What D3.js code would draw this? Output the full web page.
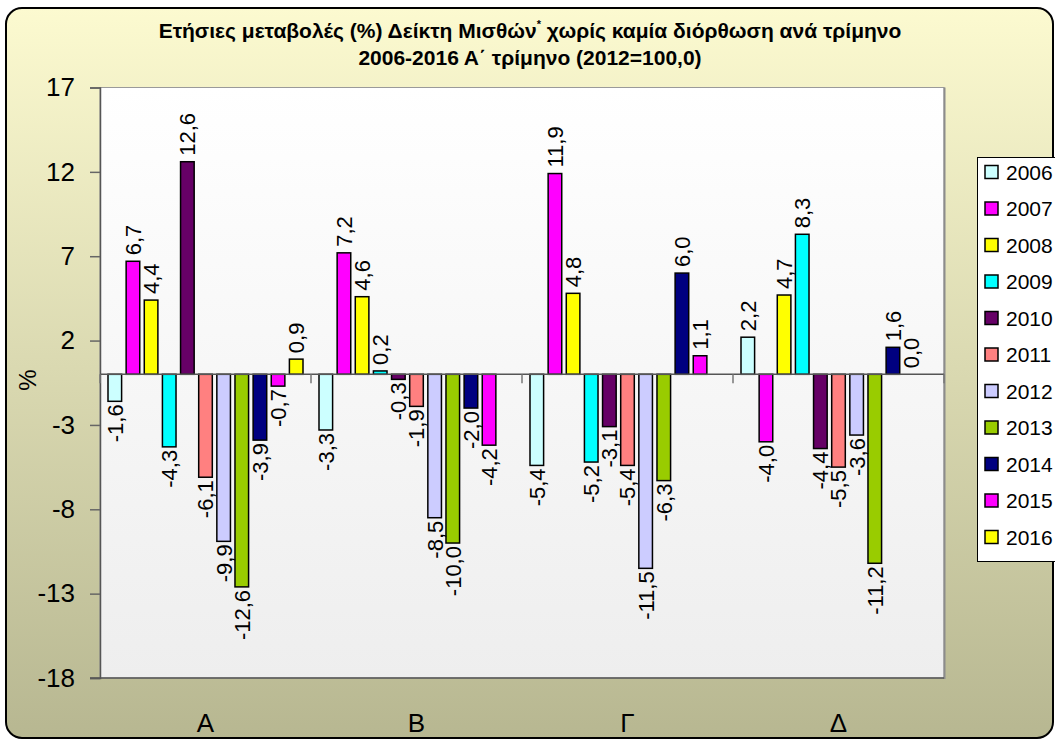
<!DOCTYPE html>
<html>
<head>
<meta charset="utf-8">
<script src="https://cdn.jsdelivr.net/npm/d3@7/dist/d3.min.js"></script>
<style>
html,body{margin:0;padding:0;background:#fff;overflow:hidden;}
svg{display:block;font-family:"Liberation Sans",Arial,sans-serif;}
</style>
</head>
<body>
<svg id="chart" width="1055" height="740"></svg>
<script>
// ---- data ----
const categories = ["Α", "Β", "Γ", "Δ"];
const years = ["2006","2007","2008","2009","2010","2011","2012","2013","2014","2015","2016"];
const s2006 = [-1.6, -3.3, -5.4, 2.2];
const s2007 = [6.7, 7.2, 11.9, -4.0];
const s2008 = [4.4, 4.6, 4.8, 4.7];
const s2009 = [-4.3, 0.2, -5.2, 8.3];
const s2010 = [12.6, -0.3, -3.1, -4.4];
const s2011 = [-6.1, -1.9, -5.4, -5.5];
const s2012 = [-9.9, -8.5, -11.5, -3.6];
const s2013 = [-12.6, -10.0, -6.3, -11.2];
const s2014 = [-3.9, -2.0, 6.0, 1.6];
const s2015 = [-0.7, -4.2, 1.1, 0.0];
const s2016 = [0.9, null, null, null];
const seriesValues = [s2006,s2007,s2008,s2009,s2010,s2011,s2012,s2013,s2014,s2015,s2016];
const colors = ["#ccffff","#ff00ff","#ffff00","#00ffff","#660066","#ff8080","#ccccff","#99cc00","#000080","#ff00ff","#ffff00"];
const yTicks = [-18,-13,-8,-3,2,7,12,17];
const titleLine1 = "Ετήσιες μεταβολές (%) Δείκτη Μισθών";
const titleLine1b = " χωρίς καμία διόρθωση ανά τρίμηνο";
const titleLine2 = "2006-2016 Α΄ τρίμηνο (2012=100,0)";

// ---- layout ----
const svg = d3.select("#chart");
const plot = {x0: 100, x1: 944, y0: 87.5, y1: 678};

const defs = svg.append("defs");
const bg = defs.append("linearGradient").attr("id","bg").attr("x1",0).attr("y1",0).attr("x2",0).attr("y2",1);
bg.append("stop").attr("offset","0%").attr("stop-color","#fcfad0");
bg.append("stop").attr("offset","100%").attr("stop-color","#b7b791");
const pg = defs.append("linearGradient").attr("id","pg").attr("x1",0).attr("y1",0).attr("x2",0).attr("y2",1);
pg.append("stop").attr("offset","0%").attr("stop-color","#ffffff");
pg.append("stop").attr("offset","100%").attr("stop-color","#eeeeee");

// outer panel
svg.append("rect").attr("x",6).attr("y",8).attr("width",1047).attr("height",730)
  .attr("rx",16).attr("ry",16).attr("fill","url(#bg)").attr("stroke","#000").attr("stroke-width",2);

// plot area
svg.append("rect").attr("x",plot.x0).attr("y",plot.y0).attr("width",plot.x1-plot.x0).attr("height",plot.y1-plot.y0)
  .attr("fill","url(#pg)").attr("stroke","#9a9a9a").attr("stroke-width",1);
svg.append("line").attr("x1",plot.x1+0.5).attr("x2",plot.x1+0.5).attr("y1",plot.y0).attr("y2",plot.y1+1)
  .attr("stroke","#8c8c8c").attr("stroke-width",2);

// scales
const y = d3.scaleLinear().domain([-18,17]).range([plot.y1, plot.y0]);
const x0 = d3.scaleBand().domain(categories).range([plot.x0, plot.x1]).padding(0);
const x1 = d3.scaleBand().domain(years).range([8, x0.bandwidth()-8]).paddingInner(0.25).paddingOuter(0);

// y axis
const yAxis = d3.axisLeft(y).tickValues(yTicks).tickSize(10).tickPadding(15).tickFormat(d => String(d));
const ya = svg.append("g").attr("transform",`translate(${plot.x0},0)`).call(yAxis);
ya.select(".domain").attr("stroke","#555").attr("stroke-width",1.5);
ya.selectAll(".tick line").attr("stroke","#666").attr("stroke-width",1.5);
ya.selectAll(".tick text").attr("font-size",26).attr("fill","#000").attr("font-family","Liberation Sans, Arial, sans-serif");

// bottom border line (axis at -18)
svg.append("line").attr("x1",plot.x0-10).attr("x2",plot.x1).attr("y1",plot.y1).attr("y2",plot.y1)
  .attr("stroke","#555").attr("stroke-width",1.5);

// y axis label
svg.append("text").attr("transform",`translate(36,${380}) rotate(-90)`).attr("text-anchor","middle")
  .attr("font-size",24).attr("fill","#000").text("%");

// category labels
svg.selectAll("text.cat").data(categories).join("text").attr("class","cat")
  .attr("x", d => x0(d) + x0.bandwidth()/2).attr("y", 732)
  .attr("text-anchor","middle").attr("font-size",26).attr("fill","#000").text(d => d);

// bars
const fmt = v => d3.format(".1f")(v).replace("−", "-").replace(".", ",");
const groups = svg.append("g").selectAll("g").data(categories).join("g")
  .attr("transform", d => `translate(${x0(d)},0)`);

const cells = (ci) => years.map((yr, si) => ({yr, si, v: seriesValues[si][ci]})).filter(d => d.v !== null);

groups.each(function(cat, ci) {
  const g = d3.select(this);
  const data = cells(ci);
  g.selectAll("rect").data(data).join("rect")
    .attr("x", d => x1(d.yr))
    .attr("width", x1.bandwidth())
    .attr("y", d => Math.min(y(d.v), y(0)))
    .attr("height", d => Math.abs(y(d.v) - y(0)))
    .attr("fill", d => colors[d.si])
    .attr("stroke", "#000").attr("stroke-width", 1.5);
});

// zero line with category ticks
svg.append("line").attr("x1",plot.x0).attr("x2",plot.x1).attr("y1",y(0)).attr("y2",y(0))
  .attr("stroke","#555").attr("stroke-width",1.5);
const xTickPos = categories.map(c => x0(c)).concat([plot.x1]);
svg.selectAll("line.xt").data(xTickPos).join("line").attr("class","xt")
  .attr("x1", d => d).attr("x2", d => d).attr("y1", y(0)).attr("y2", y(0)+9)
  .attr("stroke","#777").attr("stroke-width",1.5);

// data labels
groups.each(function(cat, ci) {
  const g = d3.select(this);
  const data = cells(ci);
  g.selectAll("text").data(data).join("text")
    .attr("transform", d => {
      const cx = x1(d.yr) + x1.bandwidth()/2;
      const yy = d.v >= 0 ? y(d.v) - 6 : y(d.v) + 3;
      return `translate(${cx},${yy}) rotate(-90)`;
    })
    .attr("text-anchor", d => d.v >= 0 ? "start" : "end")
    .attr("dy","0.36em")
    .attr("font-size",22).attr("fill","#000")
    .text(d => fmt(d.v));
});

// title
const t1 = svg.append("text").attr("x",530).attr("y",38).attr("text-anchor","middle")
  .attr("font-size",21).attr("font-weight","bold").attr("fill","#000");
t1.append("tspan").text(titleLine1);
t1.append("tspan").attr("dy",-10).attr("font-size",11).text("*");
t1.append("tspan").attr("dy",10).text(titleLine1b);
svg.append("text").attr("x",530).attr("y",65).attr("text-anchor","middle")
  .attr("font-size",21).attr("font-weight","bold").attr("fill","#000").text(titleLine2);

// legend
const lg = svg.append("g");
lg.append("rect").attr("x",977.5).attr("y",157.5).attr("width",120).attr("height",404)
  .attr("fill","#fff").attr("stroke","#000").attr("stroke-width",1);
const items = lg.selectAll("g.li").data(years).join("g").attr("class","li")
  .attr("transform",(d,i) => `translate(985,${172 + i*36.5})`);
items.append("rect").attr("x",0).attr("y",-6.5).attr("width",13).attr("height",13)
  .attr("fill",(d,i) => colors[i]).attr("stroke","#000").attr("stroke-width",1.5);
items.append("text").attr("x",21).attr("dy","0.36em").attr("font-size",21).attr("fill","#000").text(d => d);
</script>
</body>
</html>
